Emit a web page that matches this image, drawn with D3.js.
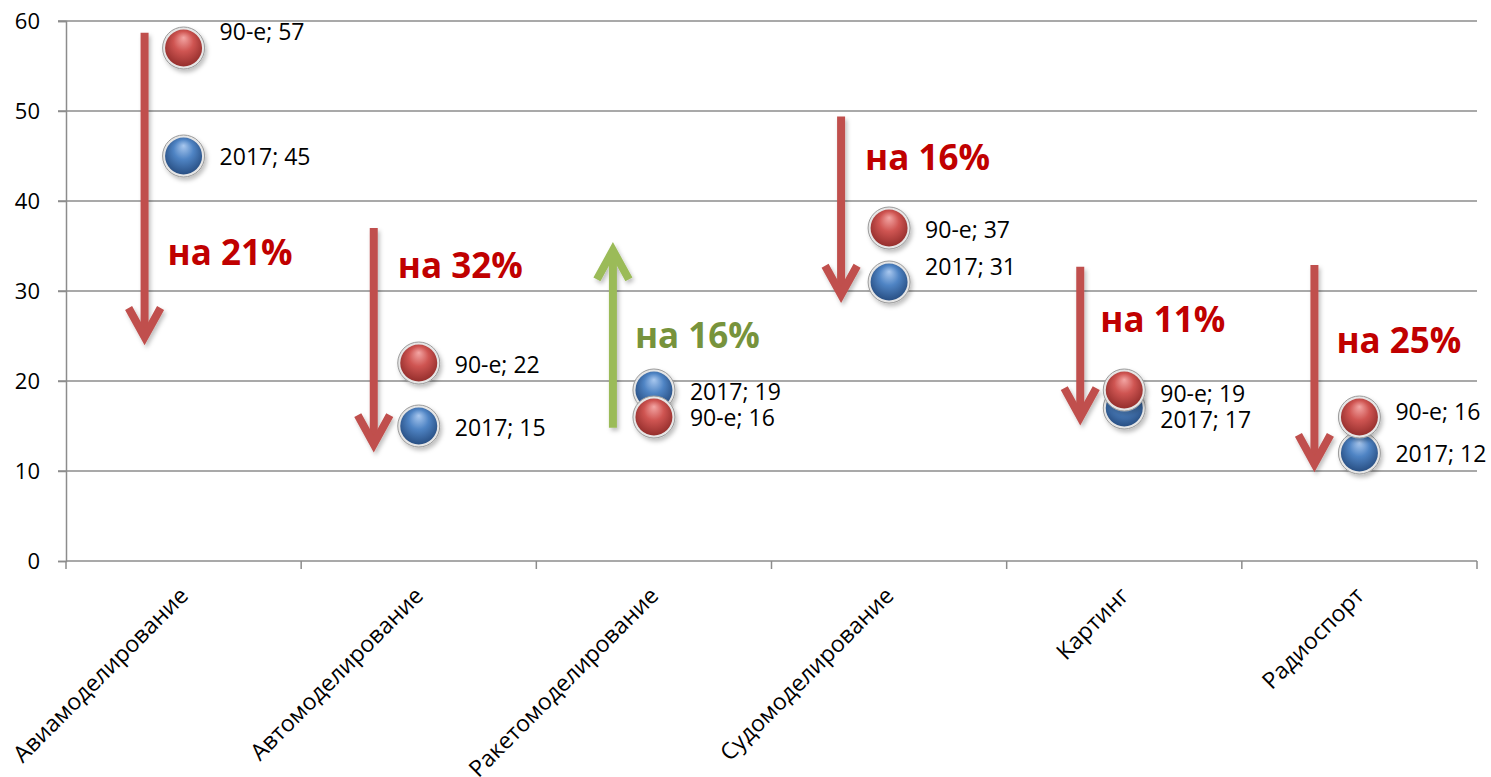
<!DOCTYPE html>
<html>
<head>
<meta charset="utf-8">
<script src="https://cdn.jsdelivr.net/npm/d3@7"></script>
<style>
  body { margin: 0; background: #fff; }
  svg { font-family: 'Open Sans', sans-serif; }
</style>
</head>
<body>
<div id="chart"></div>
<script>
// data
const categories = ['Авиамоделирование', 'Автомоделирование', 'Ракетомоделирование',
                    'Судомоделирование', 'Картинг', 'Радиоспорт'];
const values90 = [57, 22, 16, 37, 19, 16];
const values2017 = [45, 15, 19, 31, 17, 12];
const yTicks = [0, 10, 20, 30, 40, 50, 60];

// change annotations (arrows go from -> to, in axis units)
const changeLabels = ['на 21%', 'на 32%', 'на 16%', 'на 16%', 'на 11%', 'на 25%'];
const changeUp = [false, false, true, false, false, false];
const arrowFrom = [58.7, 37.0, 14.8, 49.4, 32.7, 32.9];
const arrowTo = [24.0, 12.1, 35.4, 28.7, 15.1, 9.9];
const changeLabelAt = [32.9, 31.4, 23.7, 43.4, 25.4, 23.1];

// layout tweaks (pixels)
const arrowDx = [-39, -45, -41, -48, -44, -45];
const changeLabelDx = [-16, -21, -19, -24, -24, -23];
const label90Dy = [-16, 2, 1, 2, 4, -5];
const label2017Dy = [1, 2, 2, -15, 12, 1];

let margin = {top: 21, right: 14, bottom: 216, left: 66},
    width = 1491 - margin.left - margin.right,
    height = 777 - margin.top - margin.bottom;

const svgRoot = d3.select('#chart')
    .append('svg')
    .attr('width', width + margin.left + margin.right)
    .attr('height', height + margin.top + margin.bottom);

const defs = svgRoot.append('defs');

// ball gradients
function ballGradient(id, light, mid, dark) {
    const g = defs.append('radialGradient')
        .attr('id', id)
        .attr('cx', '50%').attr('cy', '45%').attr('r', '60%')
        .attr('fx', '50%').attr('fy', '22%');
    g.append('stop').attr('offset', '0%').attr('stop-color', light);
    g.append('stop').attr('offset', '45%').attr('stop-color', mid);
    g.append('stop').attr('offset', '100%').attr('stop-color', dark);
}
ballGradient('ballRed', '#f3a6a4', '#cf5552', '#8e2a28');
ballGradient('ballBlue', '#a9c8ef', '#4f84c4', '#24497c');

const shadow = defs.append('filter').attr('id', 'shadow')
    .attr('x', '-50%').attr('y', '-50%').attr('width', '200%').attr('height', '200%');
shadow.append('feDropShadow')
    .attr('dx', 2).attr('dy', 3).attr('stdDeviation', 2)
    .attr('flood-color', '#000').attr('flood-opacity', 0.25);

const svg = svgRoot.append('g')
    .attr('transform', 'translate(' + margin.left + ',' + margin.top + ')');

// scales
let x = d3.scaleBand()
    .domain(categories)
    .range([0, width])
    .padding(0);

let y = d3.scaleLinear()
    .domain([0, 60])
    .range([height, 0]);

// gridlines
svg.append('g')
    .selectAll('line')
    .data(yTicks.filter(d => d > 0))
    .enter().append('line')
    .attr('x1', -8)
    .attr('x2', width)
    .attr('y1', d => y(d))
    .attr('y2', d => y(d))
    .attr('stroke', '#8c8c8c')
    .attr('stroke-width', 1.5);

// y axis
const yAxis = svg.append('g')
    .call(d3.axisLeft(y).tickValues(yTicks).tickSize(8).tickPadding(18));
yAxis.select('.domain').attr('stroke', '#8c8c8c').attr('stroke-width', 1.5);
yAxis.selectAll('.tick line').attr('stroke', '#8c8c8c').attr('stroke-width', 1.5);
yAxis.selectAll('.tick text')
    .attr('font-size', 22)
    .attr('font-family', "'Open Sans', sans-serif")
    .attr('fill', '#000');

// x axis (ticks on category boundaries)
const xAxis = svg.append('g')
    .attr('transform', 'translate(0,' + height + ')');
xAxis.append('line')
    .attr('x1', 0).attr('x2', width)
    .attr('stroke', '#8c8c8c').attr('stroke-width', 1.5);
xAxis.selectAll('.bound')
    .data(d3.range(categories.length + 1))
    .enter().append('line')
    .attr('x1', i => i * x.bandwidth())
    .attr('x2', i => i * x.bandwidth())
    .attr('y1', 0).attr('y2', 8)
    .attr('stroke', '#8c8c8c').attr('stroke-width', 1.5);
xAxis.selectAll('.cat')
    .data(categories)
    .enter().append('text')
    .attr('transform', d => 'translate(' + (x(d) + x.bandwidth() / 2 + 6) + ',36) rotate(-45)')
    .attr('text-anchor', 'end')
    .attr('font-size', 23)
    .attr('fill', '#000')
    .text(d => d);

// arrows
const arrows = svg.append('g').attr('filter', 'url(#shadow)');
categories.forEach((c, i) => {
    const ax = x(c) + x.bandwidth() / 2 + arrowDx[i];
    const dir = changeUp[i] ? -1 : 1;
    const y0 = y(arrowFrom[i]), y1 = y(arrowTo[i]) - dir * 8;
    const col = changeUp[i] ? '#9bbb59' : '#c0504d';
    arrows.append('line')
        .attr('x1', ax).attr('x2', ax)
        .attr('y1', y0).attr('y2', y1 - dir * 4)
        .attr('stroke', col).attr('stroke-width', 8);
    arrows.append('path')
        .attr('d', 'M' + (ax - 16) + ',' + (y1 - dir * 29) + 'L' + ax + ',' + y1 + 'L' + (ax + 16) + ',' + (y1 - dir * 29))
        .attr('fill', 'none')
        .attr('stroke', col).attr('stroke-width', 8)
        .attr('stroke-linejoin', 'miter');
});

// change labels
svg.selectAll('.change')
    .data(categories)
    .enter().append('text')
    .attr('x', (d, i) => x(d) + x.bandwidth() / 2 + changeLabelDx[i])
    .attr('y', (d, i) => y(changeLabelAt[i]))
    .attr('font-size', 35)
    .attr('font-weight', 'bold')
    .attr('fill', (d, i) => changeUp[i] ? '#77933c' : '#c00000')
    .text((d, i) => changeLabels[i]);

// balls
function drawSeries(values, grad, name, dys) {
    const g = svg.append('g');
    const pts = g.selectAll('g')
        .data(values)
        .enter().append('g')
        .attr('transform', (d, i) => 'translate(' + (x(categories[i]) + x.bandwidth() / 2) + ',' + y(d) + ')');
    pts.append('circle')
        .attr('r', 21)
        .attr('fill', '#e6e6e6')
        .attr('stroke', '#9a9a9a')
        .attr('stroke-width', 1)
        .attr('filter', 'url(#shadow)');
    pts.append('circle')
        .attr('r', 18.5)
        .attr('fill', 'url(#' + grad + ')');
    pts.append('text')
        .attr('x', 36)
        .attr('y', (d, i) => dys[i])
        .attr('dy', '0.35em')
        .attr('font-size', 23)
        .attr('fill', '#000')
        .text(d => name + '; ' + d);
}
drawSeries(values2017, 'ballBlue', '2017', label2017Dy);
drawSeries(values90, 'ballRed', '90-е', label90Dy);
</script>
</body>
</html>
